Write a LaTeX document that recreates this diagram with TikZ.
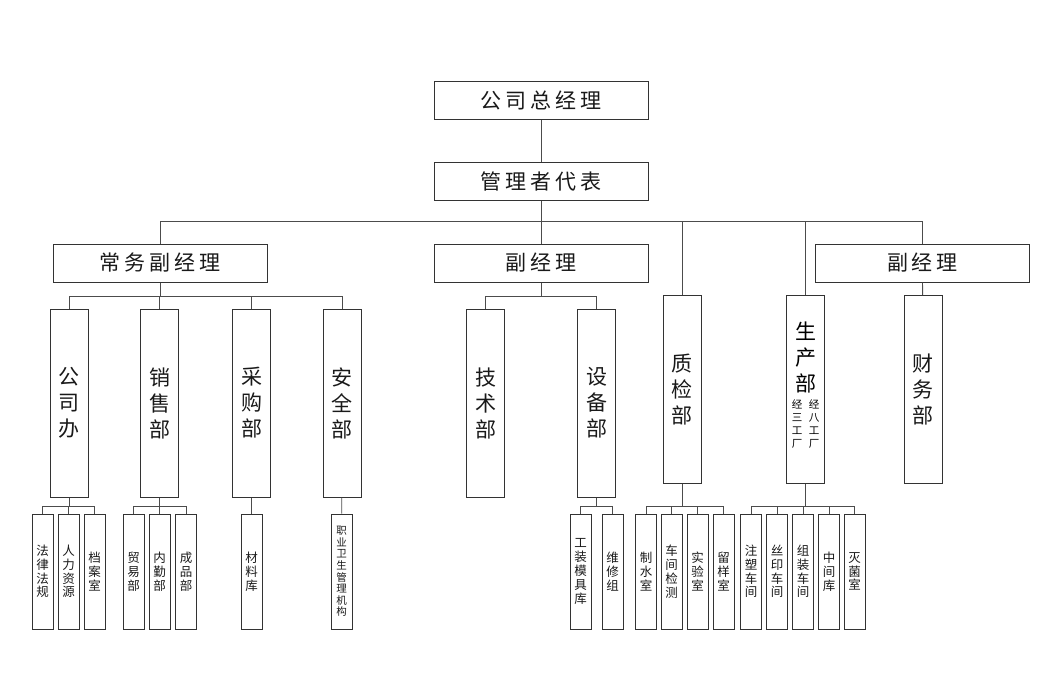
\documentclass[tikz,border=0pt]{standalone}
\usepackage{fontspec}
\newfontfamily\hei{Noto Sans CJK SC}
\newfontfamily\heiw[LetterSpace=18]{Noto Sans CJK SC}
\begin{document}
\begin{tikzpicture}[x=1pt,y=-1pt]
	\tikzset{box/.style={draw=black!80,line width=1pt,inner sep=0pt,align=center,text=black!90},
		wide/.style={box,minimum width=214pt,minimum height=38pt,font=\heiw\fontsize{21}{26}\selectfont},
		tall/.style={box,minimum width=38pt,minimum height=188pt,font=\hei\fontsize{21}{26}\selectfont},
		small/.style={box,minimum width=21pt,minimum height=115pt,font=\hei\fontsize{12.5}{13.8}\selectfont},
		link/.style={draw=black!70,line width=.8pt}
	}
	\useasboundingbox (0,0) rectangle (1052,693);
	% top levels
	\node[wide] (zjl) at (541,100.5) {公司总经理};
	\node[wide] (dbz) at (541,181.5) {管理者代表};
	\node[wide] (cw) at (160,263) {常务副经理};
	\node[wide] (fj) at (541,263) {副经理};
	\node[wide] (fjr) at (922.5,263) {副经理};
	\draw[link] (zjl) -- (dbz);
	\draw[link] (dbz.south) -- ++(0,20) coordinate (bus);
	% departments
	\node[tall] (gsb) at (69,403) {公\\司\\办};
	\node[tall] (xsb) at (159.5,403) {销\\售\\部};
	\node[tall] (cgb) at (251.5,403) {采\\购\\部};
	\node[tall] (aqb) at (342,403) {安\\全\\部};
	\node[tall] (jsb) at (485.5,403) {技\\术\\部};
	\node[tall] (sbb) at (596.5,403) {设\\备\\部};
	\node[tall] (zjb) at (682,389.5) {质\\检\\部};
	\node[tall] (scb) at (805.5,389.5) {};
	\node[tall] (cwb) at (923,389.5) {财\\务\\部};
	\node[font=\hei\fontsize{21}{26}\selectfont,align=center] (sct) at ([yshift=32pt]scb.center) {生\\产\\部};
	\node[font=\hei\fontsize{10.5}{13}\selectfont,align=center,inner sep=0pt] (sc3) at ([xshift=-8.5pt,yshift=-34.5pt]scb.center) {经\\三\\工\\厂};
	\node[font=\hei\fontsize{10.5}{13}\selectfont,align=center,inner sep=0pt] (sc8) at ([xshift=8.5pt,yshift=-34.5pt]scb.center) {经\\八\\工\\厂};
	\foreach \n in {cw,fj,zjb,scb,fjr}{
		\draw[link] (bus) -| (\n.north);}
	\draw[link] (cw.south) -- ++(0,14) coordinate (b0);
	\foreach \n in {gsb,xsb,cgb,aqb}{
		\draw[link] (b0) -| (\n.north);}
	\draw[link] (fj.south) -- ++(0,14) coordinate (b0);
	\foreach \n in {jsb,sbb}{
		\draw[link] (b0) -| (\n.north);}
	\draw[link] (fjr) -- (cwb);
	% sections
	\draw[link] (gsb.south) -- ++(0,8.5) coordinate (b1);
	\foreach \x/\t [count=\i] in {42.5/法\\律\\法\\规,68.5/人\\力\\资\\源,94.5/档\\案\\室}{
		\node[small] (gs\i) at (\x,571.5) {\t};
		\draw[link] (b1) -| (gs\i.north);}
	\draw[link] (xsb.south) -- ++(0,8.5) coordinate (b2);
	\foreach \x/\t [count=\i] in {133.5/贸\\易\\部,159.5/内\\勤\\部,186/成\\品\\部}{
		\node[small] (xs\i) at (\x,571.5) {\t};
		\draw[link] (b2) -| (xs\i.north);}
	\node[small] (cg1) at (251.5,571.5) {材\\料\\库};
	\draw[link] (cgb) -- (cg1);
	\node[small,font=\hei\fontsize{10.5}{11.6}\selectfont] (aq1) at (341.5,571.5) {职\\业\\卫\\生\\管\\理\\机\\构};
	\draw[link] (aqb) -- (aq1);
	\draw[link] (sbb.south) -- ++(0,8.5) coordinate (b3);
	\foreach \x/\t [count=\i] in {580.5/工\\装\\模\\具\\库,612.5/维\\修\\组}{
		\node[small] (sb\i) at (\x,571.5) {\t};
		\draw[link] (b3) -| (sb\i.north);}
	\draw[link] (zjb.south) -- ++(0,22) coordinate (b4);
	\foreach \x/\t [count=\i] in {646/制\\水\\室,671.5/车\\间\\检\\测,697.5/实\\验\\室,723.5/留\\样\\室}{
		\node[small] (zj\i) at (\x,571.5) {\t};
		\draw[link] (b4) -| (zj\i.north);}
	\draw[link] (scb.south) -- ++(0,22) coordinate (b5);
	\foreach \x/\t [count=\i] in {751/注\\塑\\车\\间,777/丝\\印\\车\\间,803/组\\装\\车\\间,829/中\\间\\库,854.5/灭\\菌\\室}{
		\node[small] (sc\i) at (\x,571.5) {\t};
		\draw[link] (b5) -| (sc\i.north);}
\end{tikzpicture}
\end{document}
